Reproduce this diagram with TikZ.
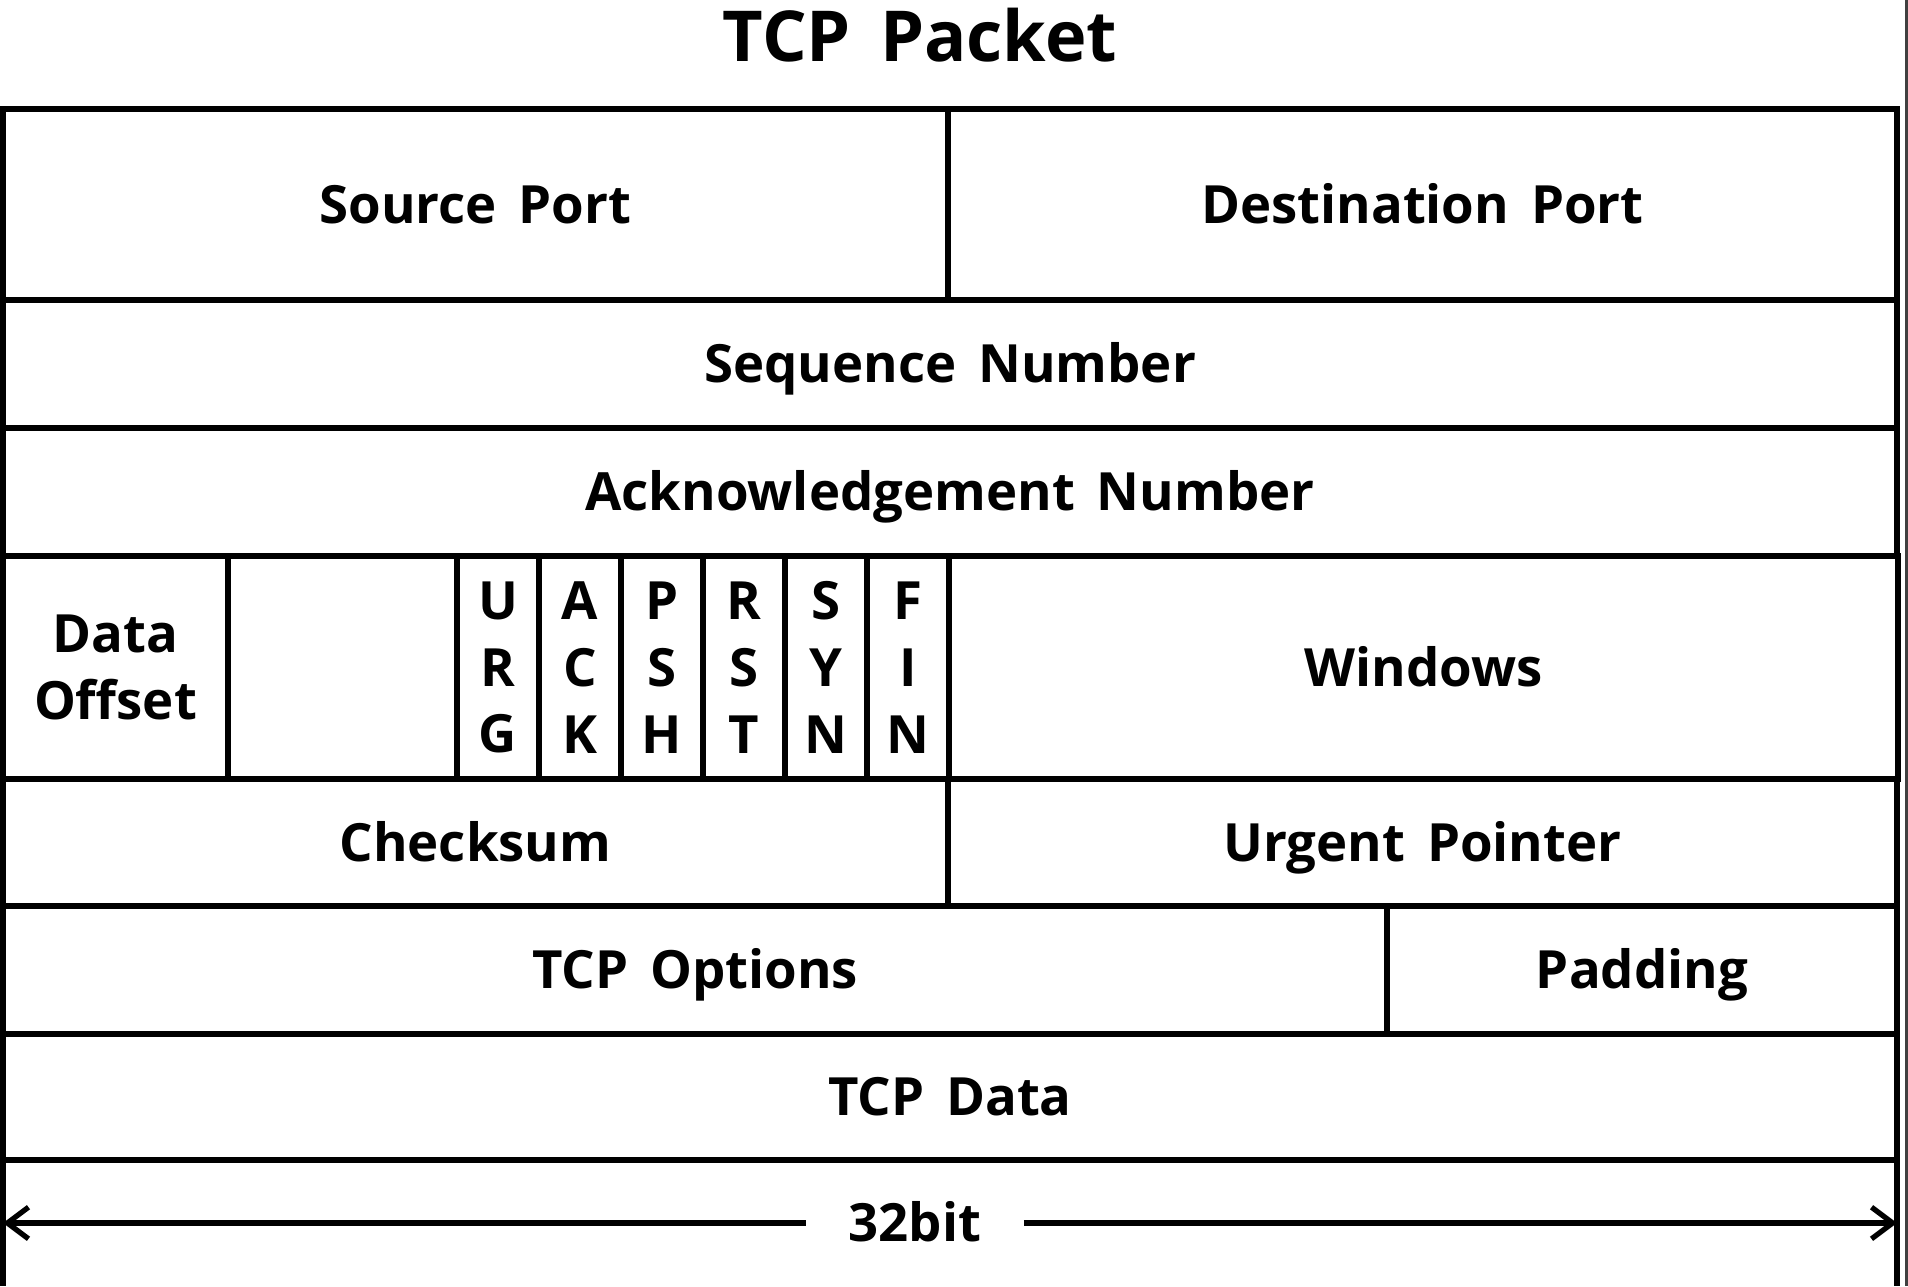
\documentclass[tikz,border=0pt]{standalone}
\usepackage{fontspec}
\setmainfont{Open Sans}[WordSpace=1.6]
\usetikzlibrary{arrows.meta, positioning}

\begin{document}
\begin{tikzpicture}[>={Straight Barb[length=6pt,width=9pt]}, line width=1.5pt,
        field/.style={rectangle, draw, inner sep=0pt, outer sep=0pt, anchor=north west, align=center, font=\bfseries\fontsize{15}{19}\selectfont},
        cell/.style={field, text height=10.7pt, text depth=0pt},
        flag/.style={field, minimum width=0.82cm, minimum height=2.23cm}]
        \useasboundingbox (0,0) rectangle (19.08,12.86);
        \fill[black!75] (19.05,0) rectangle (19.08,12.86);
        \node[anchor=base, font=\bfseries\fontsize{20}{24}\selectfont] (title) at (9.20,12.25) {TCP Packet};

        \node[cell, minimum width=9.45cm, minimum height=1.91cm] (src) at (0.03,11.77) {Source Port};
        \node[cell, minimum width=9.49cm, minimum height=1.91cm, right=0pt of src.north east, anchor=north west] (dst) {Destination Port};
        \node[cell, minimum width=18.94cm, minimum height=1.28cm, below=0pt of src.south west, anchor=north west] (seq) {Sequence Number};
        \node[cell, minimum width=18.94cm, minimum height=1.28cm, below=0pt of seq.south west, anchor=north west] (ack) {Acknowledgement Number};
        \node[field, minimum width=2.25cm, minimum height=2.23cm, below=0pt of ack.south west, anchor=north west] (offset) {Data\\Offset};
        \node[field, minimum width=2.29cm, minimum height=2.23cm, right=0pt of offset.north east, anchor=north west] (rsv) {};
        \node[flag, right=0pt of rsv.north east, anchor=north west] (urg) {U\\R\\G};
        \node[flag, right=0pt of urg.north east, anchor=north west] (ackf) {A\\C\\K};
        \node[flag, right=0pt of ackf.north east, anchor=north west] (psh) {P\\S\\H};
        \node[flag, right=0pt of psh.north east, anchor=north west] (rst) {R\\S\\T};
        \node[flag, right=0pt of rst.north east, anchor=north west] (syn) {S\\Y\\N};
        \node[flag, right=0pt of syn.north east, anchor=north west] (fin) {F\\I\\N};
        \node[cell, minimum width=9.49cm, minimum height=2.23cm, right=0pt of fin.north east, anchor=north west] (win) {Windows};
        \node[cell, minimum width=9.45cm, minimum height=1.27cm, below=0pt of offset.south west, anchor=north west] (sum) {Checksum};
        \node[cell, minimum width=9.49cm, minimum height=1.27cm, right=0pt of sum.north east, anchor=north west] (urgent) {Urgent Pointer};
        \node[cell, minimum width=13.84cm, minimum height=1.28cm, below=0pt of sum.south west, anchor=north west] (opt) {TCP Options};
        \node[cell, minimum width=5.10cm, minimum height=1.28cm, right=0pt of opt.north east, anchor=north west] (pad) {Padding};
        \node[cell, minimum width=18.94cm, minimum height=1.26cm, below=0pt of opt.south west, anchor=north west] (data) {TCP Data};

        \coordinate (base) at (0,0);
        \draw (data.south west) -- (data.south west |- base);
        \draw (data.south east) -- (data.south east |- base);
        \node[font=\bfseries\fontsize{15}{19}\selectfont, text height=10.7pt, text depth=0pt, inner xsep=0.4cm] (bits) at (9.15,0.63) {32bit};
        \draw[<-] (data.south west |- bits) -- (bits);
        \draw[->] (bits) -- (data.south east |- bits);
    \end{tikzpicture}
\end{document}
